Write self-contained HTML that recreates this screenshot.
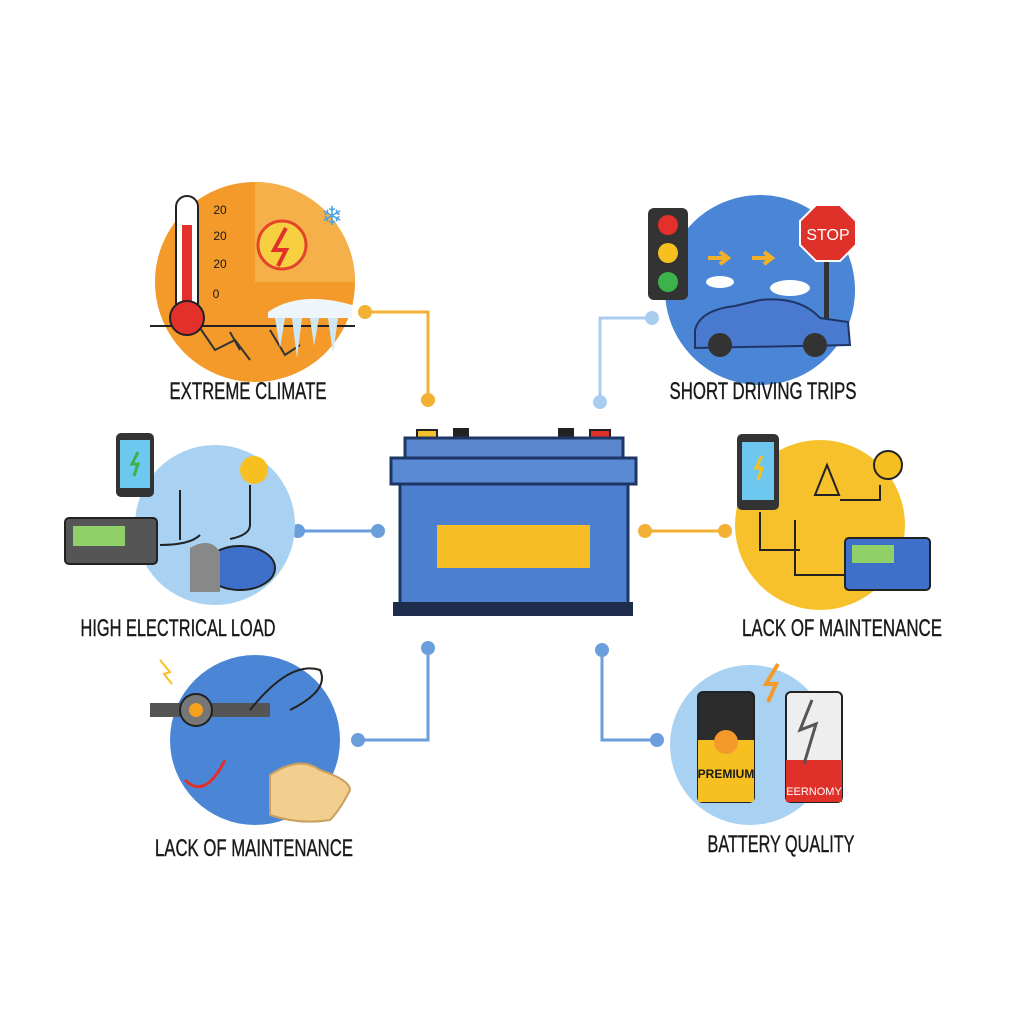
<!DOCTYPE html>
<html><head><meta charset="utf-8"><style>
html,body{margin:0;padding:0;background:#fff;width:1024px;height:1024px;overflow:hidden}
svg text{font-family:"Liberation Sans",sans-serif;font-size:23px;fill:#1a1a1a;text-anchor:middle}
svg text.lbl{font-size:24px;stroke:#1a1a1a;stroke-width:0.4}
</style></head><body>
<svg width="1024" height="1024" viewBox="0 0 1024 1024" xmlns="http://www.w3.org/2000/svg">
<rect width="1024" height="1024" fill="#fff"/>
<g fill="none" stroke-width="3">
<polyline points="365,312 428,312 428,400" stroke="#f2b035"/>
<polyline points="652,318 600,318 600,402" stroke="#a9cdf0"/>
<line x1="298" y1="531" x2="378" y2="531" stroke="#6a9fdc"/>
<line x1="645" y1="531" x2="725" y2="531" stroke="#f2b035"/>
<polyline points="428,648 428,740 358,740" stroke="#6a9fdc"/>
<polyline points="602,650 602,740 657,740" stroke="#6a9fdc"/>
</g>
<g>
<circle cx="365" cy="312" r="7" fill="#f2b035"/><circle cx="428" cy="400" r="7" fill="#f2b035"/>
<circle cx="652" cy="318" r="7" fill="#a9cdf0"/><circle cx="600" cy="402" r="7" fill="#a9cdf0"/>
<circle cx="298" cy="531" r="7" fill="#6a9fdc"/><circle cx="378" cy="531" r="7" fill="#6a9fdc"/>
<circle cx="645" cy="531" r="7" fill="#f2b035"/><circle cx="725" cy="531" r="7" fill="#f2b035"/>
<circle cx="428" cy="648" r="7" fill="#6a9fdc"/><circle cx="358" cy="740" r="7" fill="#6a9fdc"/>
<circle cx="602" cy="650" r="7" fill="#6a9fdc"/><circle cx="657" cy="740" r="7" fill="#6a9fdc"/>
</g>
<!-- battery -->
<rect x="417" y="430" width="20" height="26" fill="#f5c02a" stroke="#222" stroke-width="2"/>
<rect x="453" y="428" width="16" height="30" fill="#222"/>
<rect x="558" y="428" width="16" height="30" fill="#222"/>
<rect x="590" y="430" width="20" height="26" fill="#e0302a" stroke="#222" stroke-width="2"/>
<rect x="405" y="438" width="218" height="22" fill="#5a86cf" stroke="#1e3566" stroke-width="3"/>
<rect x="391" y="458" width="245" height="26" fill="#5b8ad4" stroke="#1e3566" stroke-width="3"/>
<rect x="400" y="484" width="228" height="120" fill="#4d7fcf" stroke="#1e3566" stroke-width="3"/>
<rect x="437" y="525" width="153" height="43" fill="#f6bd24"/>
<rect x="393" y="602" width="240" height="14" fill="#1f2d4c"/>
<!-- top-left -->
<circle cx="255" cy="282" r="100" fill="#f39a2a"/>
<path d="M255,182 A100,100 0 0 1 355,282 L255,282Z" fill="#f5b04a"/>
<circle cx="282" cy="245" r="24" fill="#f6d040" stroke="#e3442a" stroke-width="3"/>
<path d="M286,228 L274,250 L286,250 L278,266" stroke="#e3302a" stroke-width="4" fill="none"/>
<line x1="150" y1="326" x2="355" y2="326" stroke="#222" stroke-width="2"/>
<path d="M200,328 L215,350 L235,340 L250,360 M230,332 L240,350 M270,330 L285,355 L300,345" stroke="#333" stroke-width="2" fill="none"/>
<path d="M268,312 Q300,290 352,305 L352,318 L268,318Z" fill="#eef6fb"/>
<g fill="#cde7f5"><path d="M275,318 l5,30 l5,-30Z"/><path d="M292,318 l5,40 l5,-40Z"/><path d="M310,318 l4,28 l5,-28Z"/><path d="M328,318 l5,36 l5,-36Z"/></g>
<rect x="176" y="196" width="22" height="118" rx="11" fill="#fff" stroke="#222" stroke-width="2"/>
<rect x="182" y="225" width="10" height="90" fill="#e3302a"/>
<circle cx="187" cy="318" r="17" fill="#e3302a" stroke="#222" stroke-width="2"/>
<text x="220" y="214" style="font-size:12px">20</text><text x="220" y="240" style="font-size:12px">20</text><text x="220" y="268" style="font-size:12px">20</text><text x="216" y="298" style="font-size:12px">0</text>
<text x="332" y="225" style="font-size:26px;fill:#4aa3e0">❄</text>
<text class="lbl" x="248" y="399" textLength="157" lengthAdjust="spacingAndGlyphs">EXTREME CLIMATE</text>
<!-- top-right -->
<circle cx="760" cy="290" r="95" fill="#4b86d6"/>
<rect x="648" y="208" width="40" height="92" rx="6" fill="#333"/>
<circle cx="668" cy="225" r="10" fill="#e3302a"/><circle cx="668" cy="253" r="10" fill="#f6c020"/><circle cx="668" cy="282" r="10" fill="#3bb34a"/>
<rect x="824" y="250" width="5" height="80" fill="#333"/>
<polygon points="816,205 840,205 856,221 856,245 840,261 816,261 800,245 800,221" fill="#e0302a" stroke="#fff" stroke-width="2"/>
<text x="828" y="240" style="font-size:16px;fill:#fff">STOP</text>
<path d="M708,258 h18 M720,252 l8,6 l-8,6 M752,258 h18 M764,252 l8,6 l-8,6" stroke="#f2b028" stroke-width="4" fill="none"/>
<ellipse cx="790" cy="288" rx="20" ry="8" fill="#fff"/><ellipse cx="720" cy="282" rx="14" ry="6" fill="#fff"/>
<path d="M695,330 Q700,310 735,306 L760,300 Q800,296 820,318 L848,322 L850,345 L695,348Z" fill="#4a7ad0" stroke="#1e3566" stroke-width="2"/>
<circle cx="720" cy="345" r="12" fill="#333"/><circle cx="815" cy="345" r="12" fill="#333"/>
<text class="lbl" x="763" y="399" textLength="187" lengthAdjust="spacingAndGlyphs">SHORT DRIVING TRIPS</text>
<!-- mid-left -->
<circle cx="215" cy="525" r="80" fill="#a9d2f2"/>
<rect x="116" y="433" width="38" height="64" rx="5" fill="#333"/><rect x="120" y="440" width="30" height="48" fill="#6ec7ef"/>
<path d="M138,452 l-6,12 h6 l-4,12" stroke="#3bb34a" stroke-width="3" fill="none"/>
<rect x="65" y="518" width="92" height="46" rx="4" fill="#555" stroke="#222" stroke-width="2"/>
<rect x="73" y="526" width="52" height="20" fill="#8fd068"/>
<circle cx="254" cy="470" r="14" fill="#f6c020"/>
<ellipse cx="240" cy="568" rx="35" ry="22" fill="#3e6fc9" stroke="#222" stroke-width="2"/>
<path d="M190,548 q20,-12 30,4 l0,40 l-30,0Z" fill="#888"/>
<path d="M160,545 q30,0 40,-10 M180,490 v50 M250,485 v40 q0,10 -20,14" stroke="#222" stroke-width="2" fill="none"/>
<text class="lbl" x="178" y="636" textLength="195" lengthAdjust="spacingAndGlyphs">HIGH ELECTRICAL LOAD</text>
<!-- mid-right -->
<circle cx="820" cy="525" r="85" fill="#f6c12a"/>
<rect x="737" y="434" width="42" height="76" rx="5" fill="#333"/><rect x="742" y="442" width="32" height="58" fill="#6ec7ef"/>
<path d="M762,456 l-6,12 h6 l-4,12" stroke="#f6c020" stroke-width="3" fill="none"/>
<path d="M815,495 l12,-30 l12,30Z" fill="#f6c12a" stroke="#222" stroke-width="2"/>
<circle cx="888" cy="465" r="14" fill="#f6c020" stroke="#222" stroke-width="2"/>
<rect x="845" y="538" width="85" height="52" rx="4" fill="#3e6fc9" stroke="#222" stroke-width="2"/>
<rect x="852" y="545" width="42" height="18" fill="#8fd068"/>
<path d="M760,512 v38 h40 M795,520 v55 h50 M840,500 h40 v-15" stroke="#222" stroke-width="2" fill="none"/>
<text class="lbl" x="842" y="636" textLength="200" lengthAdjust="spacingAndGlyphs">LACK OF MAINTENANCE</text>
<!-- bottom-left -->
<circle cx="255" cy="740" r="85" fill="#4b86d6"/>
<rect x="150" y="703" width="120" height="14" fill="#555"/>
<circle cx="196" cy="710" r="16" fill="#777" stroke="#222" stroke-width="2"/>
<circle cx="196" cy="710" r="7" fill="#f6a020"/>
<path d="M250,710 q40,-50 70,-40 q10,20 -30,40" stroke="#222" stroke-width="2" fill="none"/>
<path d="M185,780 q20,20 40,-20" stroke="#e0302a" stroke-width="3" fill="none"/>
<path d="M270,775 q30,-20 50,-5 q30,10 30,20 q-10,20 -20,30 q-30,5 -60,-5Z" fill="#f2cf8e" stroke="#c9a060" stroke-width="2"/>
<path d="M160,660 l10,12 l-6,2 l8,10" stroke="#f6c020" stroke-width="2" fill="none"/>
<text class="lbl" x="254" y="856" textLength="198" lengthAdjust="spacingAndGlyphs">LACK OF MAINTENANCE</text>
<!-- bottom-right -->
<circle cx="750" cy="745" r="80" fill="#a9d2f2"/>
<rect x="698" y="692" width="56" height="110" rx="5" fill="#2c2c2c" stroke="#222" stroke-width="2"/>
<rect x="698" y="740" width="56" height="62" fill="#f6c020"/>
<circle cx="726" cy="742" r="12" fill="#f39a2a"/>
<text x="726" y="778" style="font-size:12px;font-weight:bold">PREMIUM</text>
<rect x="786" y="692" width="56" height="110" rx="5" fill="#eee" stroke="#222" stroke-width="2"/>
<rect x="786" y="760" width="56" height="42" fill="#e0302a"/>
<path d="M812,700 l-12,30 l16,-6 l-12,40" stroke="#555" stroke-width="3" fill="none"/>
<text x="814" y="795" style="font-size:11px;fill:#fff">EERNOMY</text>
<path d="M778,664 l-12,20 h10 l-8,18" stroke="#f39a2a" stroke-width="4" fill="none"/>
<text class="lbl" x="781" y="852" textLength="147" lengthAdjust="spacingAndGlyphs">BATTERY QUALITY</text>
</svg>
</body></html>
